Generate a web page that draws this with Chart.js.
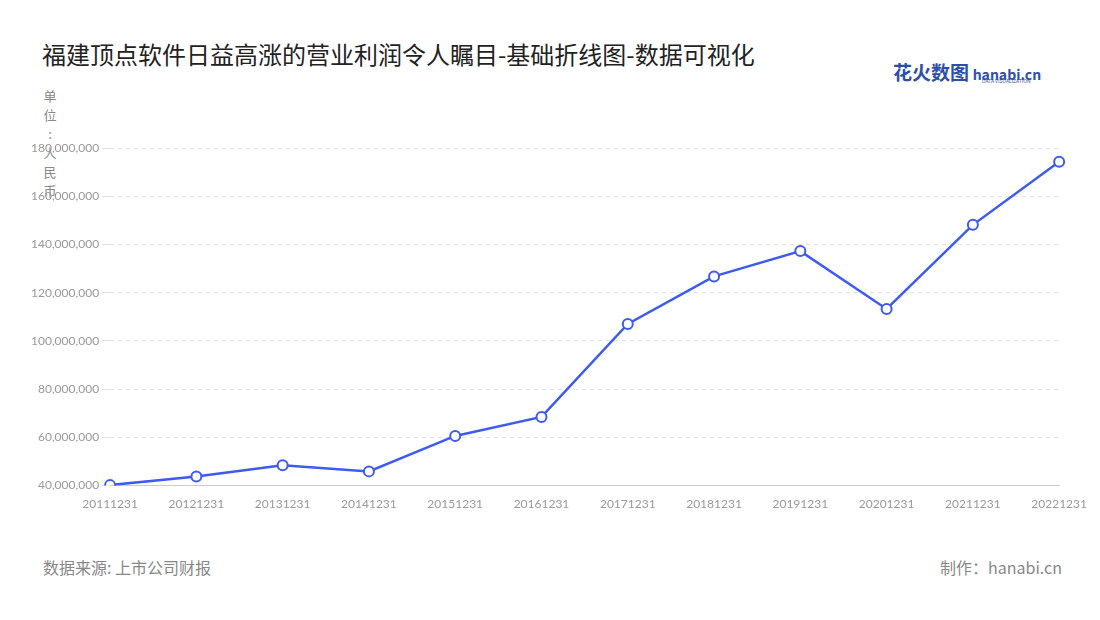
<!DOCTYPE html>
<html><head><meta charset="utf-8">
<script src="https://cdn.jsdelivr.net/npm/chart.js@4"></script>
<style>
body{margin:0;background:#fff;font-family:"Noto Sans CJK SC","Noto Sans",sans-serif;}
#wrap{position:relative;width:1100px;height:620px;}
.title{position:absolute;left:42px;top:36px;font-size:24px;color:#222;}
.unit{position:absolute;left:43px;top:86px;width:14px;font-size:13px;line-height:19px;color:#888;text-align:center;}
.unit span{display:block;}
.src{position:absolute;left:43px;top:555px;font-size:16px;color:#888;}
.made{position:absolute;right:38px;top:555px;font-size:16px;color:#888;}
.logo{position:absolute;left:893px;top:58px;color:#2e4fa8;font-weight:bold;}
#box{position:absolute;left:28px;top:138px;width:1062px;height:376px;}
</style></head><body>
<div id="wrap">
<div class="title">福建顶点软件日益高涨的营业利润令人瞩目-基础折线图-数据可视化</div>
<div class="logo"><span style="font-size:19px">花火数图</span> <span style="font-size:14px">hanabi.cn</span><div style="font-size:5px;position:absolute;left:89px;top:19px;font-weight:normal">DATA VISUALIZATION</div></div>
<div class="unit"><span>单</span><span>位</span><span>:</span><span>人</span><span>民</span><span>币</span></div>
<div id="box"><canvas id="c"></canvas></div>
<div class="src">数据来源: 上市公司财报</div>
<div class="made">制作：hanabi.cn</div>
</div>
<script>
const dates = ['20111231','20121231','20131231','20141231','20151231','20161231','20171231','20181231','20191231','20201231','20211231','20221231'];
const profit = [40200000,43800000,48400000,45900000,60600000,68500000,107100000,126800000,137300000,113300000,148200000,174400000];
const yTicks = [40000000,180000000,20000000];

new Chart(document.getElementById('c'), {
  type: 'line',
  data: {
    labels: dates,
    datasets: [{
      data: profit,
      borderColor: '#3d5af1',
      borderWidth: 2.5,
      pointRadius: 5,
      pointBorderWidth: 2,
      pointBackgroundColor: '#fff',
      pointBorderColor: '#3d5af1',
      tension: 0
    }]
  },
  options: {
    responsive: true,
    maintainAspectRatio: false,
    animation: false,
    layout: { padding: { right: 30, top: 8 } },
    plugins: { legend: { display: false }, tooltip: { enabled: false } },
    scales: {
      x: {
        offset: false,
        grid: { display: false },
        border: { color: '#ccc' },
        ticks: { color: '#999', font: { size: 12, family: 'Lato' }, maxRotation: 0, autoSkip: false }
      },
      y: {
        min: yTicks[0], max: yTicks[1],
        ticks: { stepSize: yTicks[2], color: '#999', font: { size: 12, family: 'Lato' },
          callback: v => v.toLocaleString('en-US') },
        grid: { color: '#e2e2e2' },
        border: { display: false, dash: [4, 4] }
      }
    }
  }
});
</script>
</body></html>
